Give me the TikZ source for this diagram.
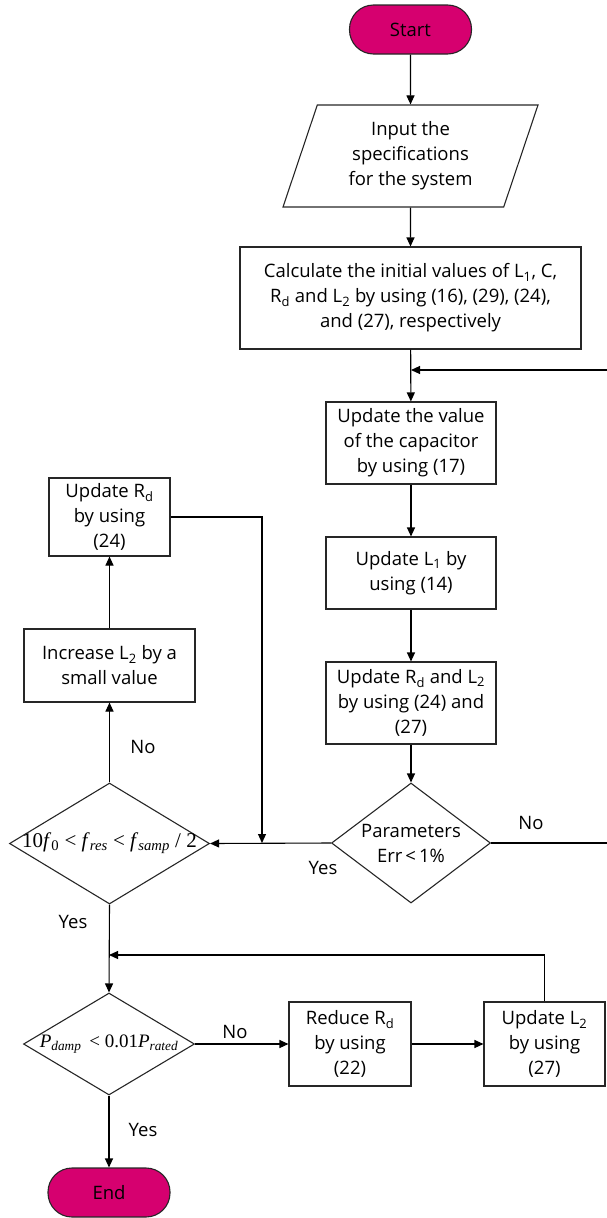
\documentclass[tikz,border=0pt]{standalone}
\usepackage{amsmath}
\usepackage{fontspec}
\setmainfont{Open Sans}
\newfontfamily\tnr{Liberation Serif}
\usetikzlibrary{positioning,arrows.meta,shapes.geometric}
\definecolor{termpink}{RGB}{214,0,111}
\colorlet{edgegray}{black!85}
% italic symbol with an italic or upright subscript
\newcommand{\isub}[2]{\textit{#1}$_{\text{\tnr\itshape #2}}$}
\newcommand{\usub}[2]{\textit{#1}$_{\text{\tnr #2}}$}

\begin{document}
\begin{tikzpicture}[x=1pt,y=-1pt,line width=1.1pt,every node/.style={font=\fontsize{18.5}{25}\selectfont},
    procbox/.style={draw=edgegray,rectangle,align=center,inner sep=2pt},
    terminal/.style={draw=edgegray,fill=termpink,rounded corners=24pt,minimum width=122pt,minimum height=49pt},
    ioblock/.style={draw=edgegray,trapezium,trapezium left angle=63.4,trapezium right angle=116.6,trapezium stretches body,minimum width=255pt,minimum height=102pt,align=center,inner sep=0pt},
    decision/.style={draw=edgegray,diamond,inner sep=0pt},
    formula/.style={font=\tnr\fontsize{#1}{24}\selectfont},
    arr/.style={-{Triangle[length=9pt,width=8pt]}},
    lbl/.style={inner sep=0pt}]
    \useasboundingbox (0,0) rectangle (606,1218);
    % main column
    \node[terminal] (start) at (410.5,29.5) {Start};
    \node[ioblock] (input) at (410.5,156) {Input the\\specifications\\for the system};
    \node[procbox,minimum width=341pt,minimum height=102pt] (calc) at (410.5,298) {Calculate the initial values of L\textsubscript{1}, C,\\R\textsubscript{d} and L\textsubscript{2} by using (16), (29), (24),\\and (27), respectively};
    \node[procbox,minimum width=170pt,minimum height=82pt] (cap) at (411,443) {Update the value\\of the capacitor\\by using (17)};
    \node[procbox,minimum width=170pt,minimum height=72pt] (lone) at (411,573) {Update L\textsubscript{1} by\\using (14)};
    \node[procbox,minimum width=170pt,minimum height=82pt] (rdl) at (411,703) {Update R\textsubscript{d} and L\textsubscript{2}\\by using (24) and\\(27)};
    \node[decision,minimum width=159pt,minimum height=120pt,
      label={[align=center]center:Parameters\\Err\,<\,1\%}] (param) at (411,843) {};
    % left column
    \node[procbox,minimum width=121pt,minimum height=78pt] (rdbox) at (109.5,517) {Update R\textsubscript{d}\\by using\\(24)};
    \node[procbox,minimum width=171pt,minimum height=73pt] (inc) at (109.5,665.5) {Increase L\textsubscript{2} by a\\small value};
    \node[decision,minimum width=200pt,minimum height=121pt,
      label={[formula=21]center:10\usub{f}{0} < \isub{f}{res} < \isub{f}{samp} / 2}] (freq) at (109.5,843.5) {};
    \node[decision,minimum width=171pt,minimum height=102pt,
      label={[formula=19]center:\isub{P}{damp}\, < 0.01\isub{P}{rated}}] (pdamp) at (109,1044) {};
    \node[procbox,minimum width=122pt,minimum height=84pt] (reduce) at (350,1044) {Reduce R\textsubscript{d}\\by using\\(22)};
    \node[procbox,minimum width=121pt,minimum height=84pt] (upl) at (544.5,1044) {Update L\textsubscript{2}\\by using\\(27)};
    \node[terminal] (end) at (109,1192.5) {End};
    % junctions
    \coordinate (jtop) at (411,370);
    \coordinate (fbright) at (608,370);
    \coordinate (jmid) at (262,843);
    \coordinate (jlow) at (109,955);
    % connectors
    \draw[arr] (start) -- (input);
    \draw[arr] (input) -- (calc);
    \draw[arr] (calc) -- (cap);
    \draw[arr] (param.east) -| (fbright) -- (jtop);
    \draw[arr] (cap) -- (lone);
    \draw[arr] (lone) -- (rdl);
    \draw[arr] (rdl) -- (param);
    \draw[arr] (param.west) -- (freq.east);
    \draw[arr] (rdbox.east) -| (jmid);
    \draw[arr] (freq.north) -- (inc.south);
    \draw[arr] (inc) -- (rdbox);
    \draw[arr] (freq.south) -- (pdamp.north);
    \draw[arr] (upl.north) |- (jlow);
    \draw[arr] (pdamp.east) -- (reduce.west);
    \draw[arr] (reduce) -- (upl);
    \draw[arr] (pdamp.south) -- (end);
    % branch labels
    \node[lbl] (nofreq) at (143,747) {No};
    \node[lbl] (yesparam) at (323,868) {Yes};
    \node[lbl] (noparam) at (531,823) {No};
    \node[lbl] (yesfreq) at (73,922) {Yes};
    \node[lbl] (nopdamp) at (235,1032) {No};
    \node[lbl] (yespdamp) at (143,1130) {Yes};
\end{tikzpicture}
\end{document}
